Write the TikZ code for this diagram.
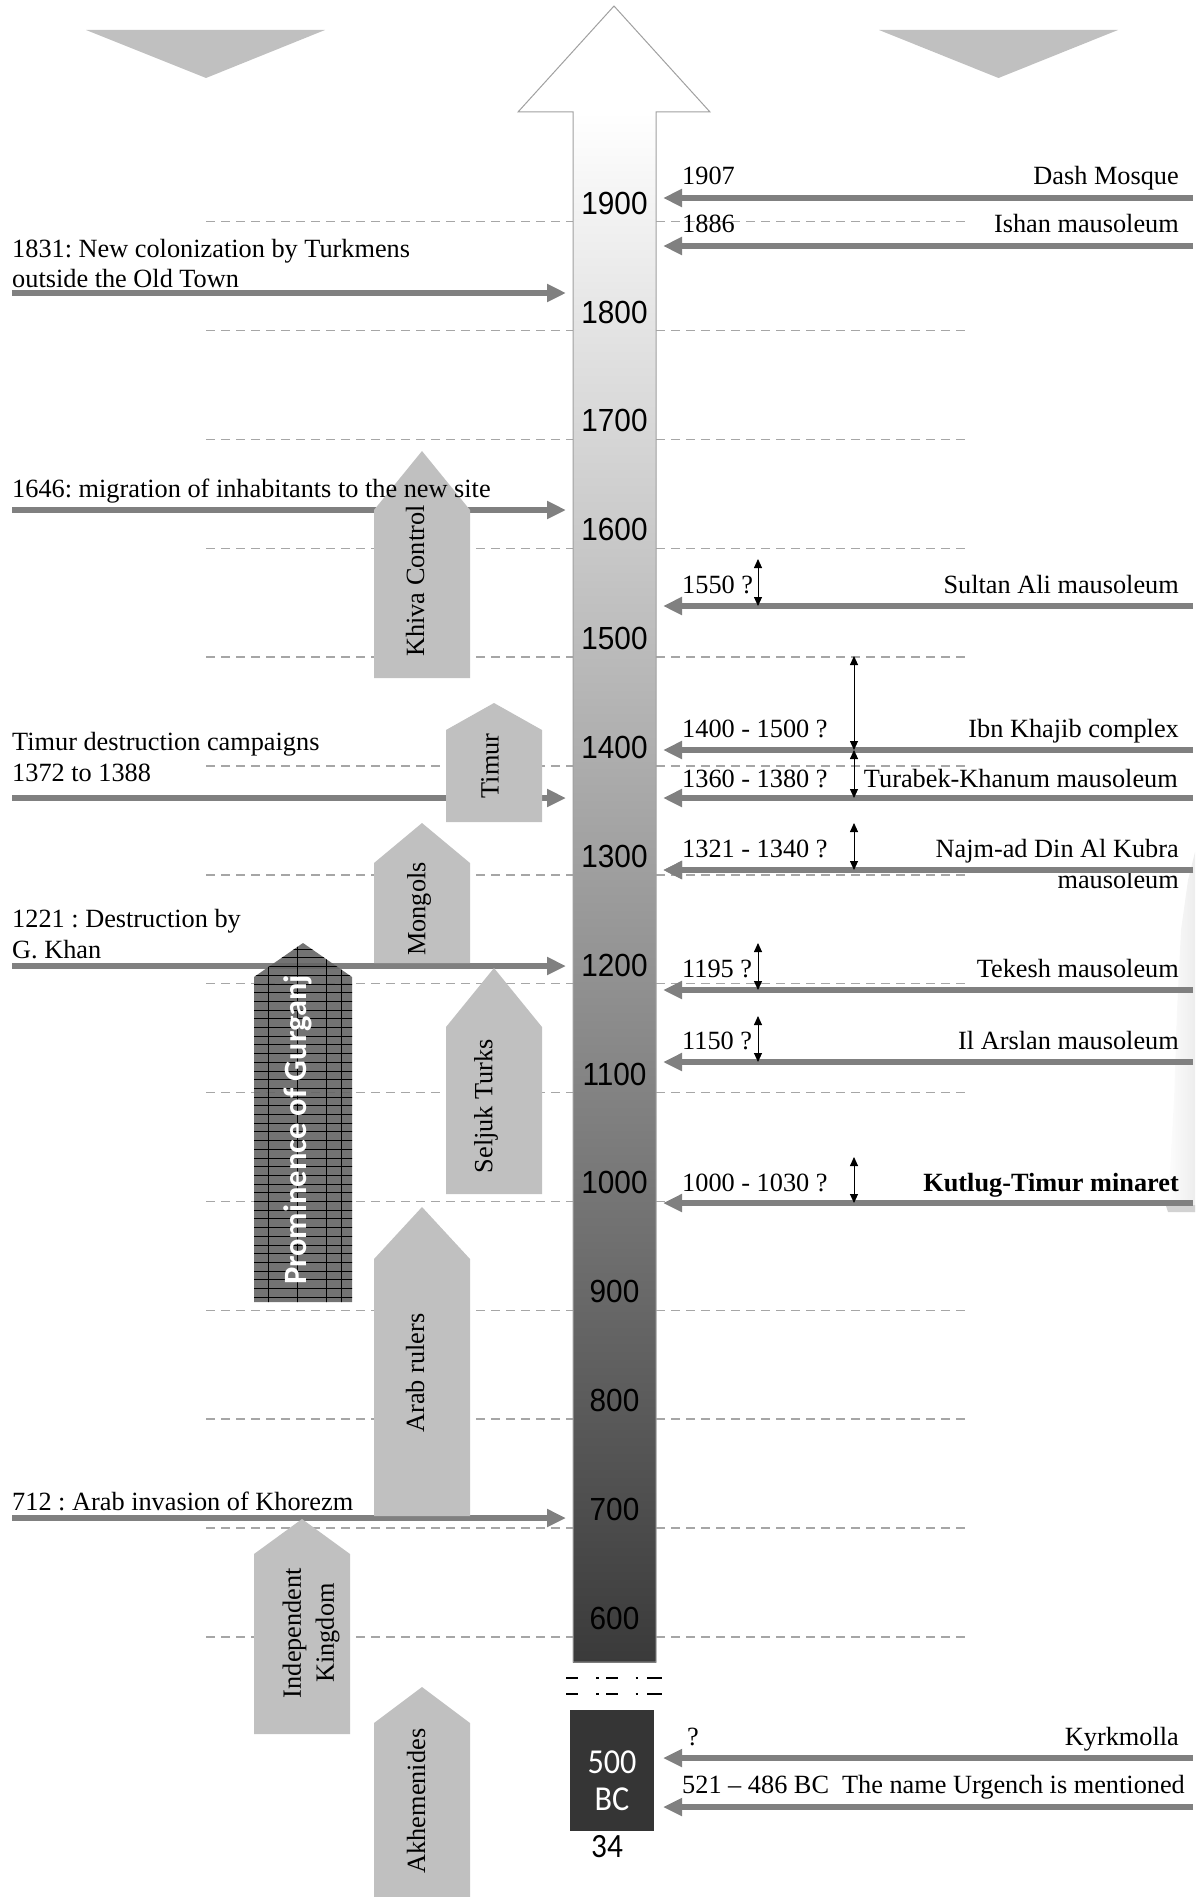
\documentclass[tikz,border=0pt]{standalone}
\usepackage{fontspec}
\setmainfont{Liberation Serif}
\newfontfamily\yearfont[FakeStretch=0.93]{Liberation Sans}
\newfontfamily\calfont[FakeStretch=0.92]{Carlito}
\newfontfamily\promfont{Carlito}
\usetikzlibrary{arrows.meta}
\definecolor{evtgray}{HTML}{808080}
\definecolor{eragray}{HTML}{C0C0C0}
\definecolor{dashgray}{HTML}{A6A6A6}
\definecolor{promfill}{HTML}{646464}
\definecolor{bcfill}{HTML}{353535}
\definecolor{shaftmid}{HTML}{ACACAC}
\definecolor{shaftbot}{HTML}{3A3A3A}
\definecolor{edgegray}{HTML}{A0A0A0}
\frenchspacing
\begin{document}
\begin{tikzpicture}[x=1pt,y=-1pt,
  evt/.style={line width=6pt, draw=evtgray, -{Triangle[length=19pt,width=17pt]}},
  dbl/.style={line width=0.9pt, draw=black, {Triangle[length=9pt,width=8pt]}-{Triangle[length=9pt,width=8pt]}},
  txt/.style={font=\fontsize{26.3}{30}\selectfont, inner sep=0pt},
  lt/.style={txt, anchor=base west},
  rt/.style={txt, anchor=base east},
  era/.style={fill=eragray, draw=none},
  eratxt/.style={font=\fontsize{26.3}{33}\selectfont, inner sep=0pt, rotate=90, align=center},
  yearlbl/.style={font=\yearfont\fontsize{32}{32}\selectfont, inner sep=0pt},
  gdash/.style={draw=dashgray, line width=1.5pt, dash pattern=on 9pt off 6pt},
  brk/.style={draw=black, line width=2.5pt},
]
\useasboundingbox (0,0) rectangle (1195,1897);

% faint photo fragment at right edge
\shade[left color=white, right color=gray!14] (1195,852) -- (1188,880) -- (1181,930) -- (1177,1010) -- (1174,1100) -- (1170,1170) -- (1165,1198) -- (1168,1212) -- (1195,1212) -- cycle;
\fill[gray!35] (1166,1206) -- (1195,1205) -- (1195,1212) -- (1168,1212) -- cycle;

% top triangles
\fill[eragray] (86,30) -- (325,30) -- (206,78) -- cycle;
\fill[eragray] (879,30) -- (1118,30) -- (998.5,78) -- cycle;

% dashed century lines
\foreach \i in {0,...,13} {
  \draw[gdash] (206,221.7+\i*108.86) -- (970,221.7+\i*108.86);
}

% central time arrow
\shade[top color=white, middle color=shaftmid, bottom color=shaftbot] (573,112) rectangle (656,1662);
\fill[white] (614,6) -- (710,112) -- (518,112) -- cycle;
\draw[edgegray, line width=1pt] (614,6) -- (710,112) -- (656,112) -- (656,1662) -- (573,1662) -- (573,112) -- (518,112) -- cycle;

% year labels
\foreach \yr [count=\i from 0] in {1900,1800,1700,1600,1500,1400,1300,1200,1100,1000,900,800,700,600} {
  \node[yearlbl] (y\yr) at (614.5,203.2+\i*108.86) {\yr};
}

% break marks
\foreach \yy in {1678,1694} {
  \draw[brk] (566,\yy) -- (578,\yy);
  \draw[brk] (596,\yy) -- (598.5,\yy);
  \draw[brk] (606,\yy) -- (618,\yy);
  \draw[brk] (635.5,\yy) -- (638,\yy);
  \draw[brk] (647,\yy) -- (662,\yy);
}

% 500 BC box
\node[fill=bcfill, minimum width=84pt, minimum height=121pt, inner sep=0pt] (bc) at (612,1770.5) {};
\node[font=\calfont\fontsize{35}{37}\selectfont, text=white, align=center, inner sep=0pt] (bctxt) at (612,1781) {500\\BC};
\node[font=\calfont\fontsize{34}{34}\selectfont, inner sep=0pt] (pg) at (607,1847) {34};

% ---------------- event arrows ----------------
\foreach \n/\yy in {l1/293, l2/510, l3/798, l4/966, l5/1518} {
  \coordinate (\n s) at (12,\yy);
  \coordinate (\n e) at (566,\yy);
  \draw[evt] (\n s) -- (\n e);
}
\foreach \n/\yy in {r1/198, r2/246, r3/606, r4/750, r5/798, r6/870, r7/990, r8/1062, r9/1203, r10/1758, r11/1807} {
  \coordinate (\n s) at (1193,\yy);
  \coordinate (\n e) at (663,\yy);
  \draw[evt] (\n s) -- (\n e);
}

% ---------------- era boxes ----------------
\fill[era] (374,678) -- (374,510) -- (422,451) -- (470,510) -- (470,678) -- cycle;
\fill[era] (446,822) -- (446,730) -- (494,703) -- (542,730) -- (542,822) -- cycle;
\fill[era] (374,963) -- (374,863) -- (422,823) -- (470,863) -- (470,963) -- cycle;
\fill[era] (446,1194) -- (446,1027) -- (494,968) -- (542,1027) -- (542,1194) -- cycle;
\fill[era] (374,1516) -- (374,1259) -- (422,1207) -- (470,1259) -- (470,1516) -- cycle;
\fill[era] (254,1734) -- (254,1554) -- (302,1519) -- (350,1554) -- (350,1734) -- cycle;
\fill[era] (374,1897) -- (374,1723) -- (422,1687) -- (470,1723) -- (470,1897) -- cycle;

% Prominence of Gurganj (semi-transparent, gridded)
\begin{scope}
  \clip (254,1302) -- (254,977) -- (303,943) -- (352,977) -- (352,1302) -- cycle;
  \fill[promfill, opacity=0.9] (250,940) rectangle (356,1306);
  \foreach \k in {0,...,41} {
    \draw[black, line width=0.45pt] (250,949+\k*8.7) -- (356,949+\k*8.7);
  }
  \foreach \xx in {268.5,297.5,326.5,341.5} {
    \draw[black, line width=0.6pt] (\xx,940) -- (\xx,1306);
  }
\end{scope}

% era texts
\node[eratxt] (khiva) at (415,581) {Khiva Control};
\node[eratxt] (timur) at (490,766) {Timur};
\node[eratxt] (mongols) at (419,909) {Mongols};
\node[eratxt] (seljuk) at (486,1106) {Seljuk Turks};
\node[eratxt] (arab) at (415,1373) {Arab rulers};
\node[eratxt] (indep) at (311,1633) {Independent\\Kingdom};
\node[eratxt] (akhem) at (416,1801) {Akhemenides};
\node[font=\promfont\bfseries\fontsize{32.5}{32.5}\selectfont, text=white, rotate=90, inner sep=0pt] (prom) at (298,1130) {Prominence of Gurganj};

% ---------------- left texts ----------------
\node[lt] (t1831a) at (12,257) {1831: New colonization by Turkmens};
\node[lt] (t1831b) at (12,287) {outside the Old Town};
\node[lt] (t1646) at (12,497) {1646: migration of inhabitants to the new site};
\node[lt] (ttimura) at (12,750) {Timur destruction campaigns};
\node[lt] (ttimurb) at (12,781) {1372 to 1388};
\node[lt] (t1221a) at (12,927) {1221 : Destruction by};
\node[lt] (t1221b) at (12,958) {G. Khan};
\node[lt] (t712) at (12,1510) {712 : Arab invasion of Khorezm};

% ---------------- right texts ----------------
\node[lt] (d1907) at (682,185) {1907};
\node[rt] (n1907) at (1179,185) {Dash Mosque};
\node[lt] (d1886) at (682,233) {1886};
\node[rt] (n1886) at (1179,233) {Ishan mausoleum};
\node[lt] (d1550) at (682,593) {1550 ?};
\node[rt] (n1550) at (1179,593) {Sultan Ali mausoleum};
\node[lt] (d1400) at (682,737) {1400 - 1500 ?};
\node[rt] (n1400) at (1179,737) {Ibn Khajib complex};
\node[lt] (d1360) at (682,787) {1360 - 1380 ?};
\node[rt, fill=white, inner ysep=2pt, inner xsep=1pt] (n1360) at (1179,787) {Turabek-Khanum mausoleum};
\node[lt] (d1321) at (682,857) {1321 - 1340 ?};
\node[rt] (n1321a) at (1179,857) {Najm-ad Din Al Kubra};
\node[rt] (n1321b) at (1179,888) {mausoleum};
\node[lt] (d1195) at (682,977) {1195 ?};
\node[rt] (n1195) at (1179,977) {Tekesh mausoleum};
\node[lt] (d1150) at (682,1049) {1150 ?};
\node[rt] (n1150) at (1179,1049) {Il Arslan mausoleum};
\node[lt] (d1000) at (682,1191) {1000 - 1030 ?};
\node[rt, font=\fontsize{26.3}{30}\selectfont\bfseries] (n1000) at (1179,1191) {Kutlug-Timur minaret};
\node[lt] (dq) at (687,1745) {?};
\node[rt] (nkyrk) at (1179,1745) {Kyrkmolla};
\node[lt] (d521) at (682,1793) {521 -- 486 BC\hspace{13pt}The name Urgench is mentioned};

% najm arrow over the second line top
\draw[evt] (r6s) -- (r6e);

% ---------------- dating ranges ----------------
\foreach \n/\xx/\ya/\yb in {a1/758/559/606, a2/854/656/750, a3/854/750/798, a4/854/823/870, a5/758/943/990, a6/758/1016/1062, a7/854/1157/1203} {
  \coordinate (\n t) at (\xx,\ya);
  \coordinate (\n b) at (\xx,\yb);
  \draw[dbl] (\n t) -- (\n b);
}
\end{tikzpicture}
\end{document}
